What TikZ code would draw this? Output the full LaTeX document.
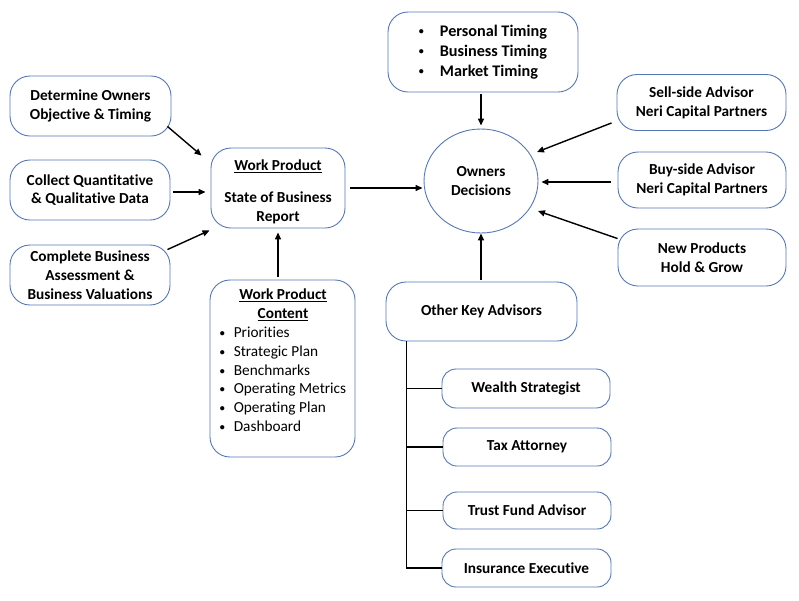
\documentclass[tikz,border=0pt]{standalone}
\usepackage{fontspec}
\setmainfont{Carlito}[Ligatures=NoCommon]
\usetikzlibrary{calc,arrows.meta,shapes.geometric}
\definecolor{bcol}{RGB}{84,118,180}
\newcommand{\smbul}{\raisebox{0.15ex}{\fontsize{10}{10}\selectfont\textbullet}}
\begin{document}
\begin{tikzpicture}[x=1pt,y=-1pt,
  every node/.style={font=\fontsize{15.3}{18.8}\selectfont\bfseries, text=black},
  box/.style={draw=bcol, line width=0.9pt, rounded corners=20pt, inner sep=0pt, align=center},
  sbox/.style={box, rounded corners=14pt},
  arr/.style={line width=1.4pt, -{Triangle[length=7pt,width=6pt]}},
  tree/.style={line width=1.4pt}]
\useasboundingbox (0,0) rectangle (799,600);
% left column
\node[box, minimum width=161, minimum height=60] (det) at (90.5,106) {Determine Owners\\Objective \& Timing};
\node[box, minimum width=160, minimum height=60] (col) at (90,190) {Collect Quantitative\\\& Qualitative Data};
\node[box, minimum width=160, minimum height=60] (cmp) at (90,275) {Complete Business\\Assessment \&\\Business Valuations};
% work product
\node[box, minimum width=134, minimum height=80] (wp) at (278,188) {};
\node[inner sep=0pt, align=center] (wpt) at (278,192) {\underline{Work Product}\\[13pt]State of Business\\Report};
\node[box, minimum width=145, minimum height=177] (wpc) at (282.5,368.5) {};
\node[inner sep=0pt] (wpct) at (283,362) {\begin{tabular}{@{}l@{\hspace{9pt}}l@{}}
\multicolumn{2}{c}{\underline{Work Product}}\\
\multicolumn{2}{c}{\underline{Content}}\\
\smbul & \mdseries Priorities\\
\smbul & \mdseries Strategic Plan\\
\smbul & \mdseries Benchmarks\\
\smbul & \mdseries Operating Metrics\\
\smbul & \mdseries Operating Plan\\
\smbul & \mdseries Dashboard
\end{tabular}};
% timing
\node[box, minimum width=190, minimum height=80, font=\fontsize{16.2}{20}\selectfont\bfseries] (tim) at (483,52) {\begin{tabular}{@{}l@{\hspace{16pt}}l@{}}
\smbul & Personal Timing\\
\smbul & Business Timing\\
\smbul & Market Timing
\end{tabular}};
% owners decisions
\node[draw=bcol, line width=0.9pt, ellipse, minimum width=114, minimum height=104, inner sep=0pt, align=center] (od) at (481,181) {Owners\\Decisions};
% right column
\node[box, minimum width=169, minimum height=56] (sell) at (701.5,102.5) {Sell-side Advisor\\Neri Capital Partners};
\node[box, minimum width=168, minimum height=56] (buy) at (702,180) {Buy-side Advisor\\Neri Capital Partners};
\node[box, minimum width=168, minimum height=57] (new) at (702,257.5) {New Products\\Hold \& Grow};
% other advisors
\node[box, minimum width=191, minimum height=59] (oka) at (481.5,311.5) {Other Key Advisors};
\node[sbox, minimum width=168, minimum height=39] (ws) at (526,388.5) {Wealth Strategist};
\node[sbox, minimum width=168, minimum height=38] (ta) at (527,447) {Tax Attorney};
\node[sbox, minimum width=168, minimum height=37] (tf) at (527,510.5) {Trust Fund Advisor};
\node[sbox, minimum width=169, minimum height=38] (ie) at (526.5,568) {Insurance Executive};
% arrows
\draw[arr] ($(det.south east)+(-4,-10)$) -- ($(wp.north west)+(-9,8)$);
\draw[arr] ($(col.east)+(3,2)$) -- ($(wp.west)+(-5,4)$);
\draw[arr] ($(cmp.north east)+(-3,5)$) -- ($(wp.south west)+(-1,2)$);
\draw[arr] ($(wp.south |- wpc.north)+(0,-3)$) -- ($(wp.south)+(0,4)$);
\draw[arr] ($(wp.east)+(5,0)$) -- ($(od.west |- wp.east)+(-1,0)$);
\draw[arr] ($(od.north |- tim.south)+(0,2)$) -- ($(od.north)+(0,-3)$);
\draw[arr] ($(sell.south west)+(-5,-8)$) -- ($(od.center)+(56,-29)$);
\draw[arr] ($(buy.west)+(-7,2)$) -- ($(od.east)+(3,1)$);
\draw[arr] ($(new.north west)+(0,10)$) -- ($(od.center)+(57,30)$);
\draw[arr] ($(od.south |- oka.north)+(0,-2)$) -- (od.south);
% tree
\coordinate (t0) at ($(oka.south west)+(21,0)$);
\draw[tree] (t0) |- (ie.west);
\draw[tree] (t0 |- ws.west) -- (ws.west);
\draw[tree] (t0 |- ta.west) -- (ta.west);
\draw[tree] (t0 |- tf.west) -- (tf.west);
\end{tikzpicture}
\end{document}
